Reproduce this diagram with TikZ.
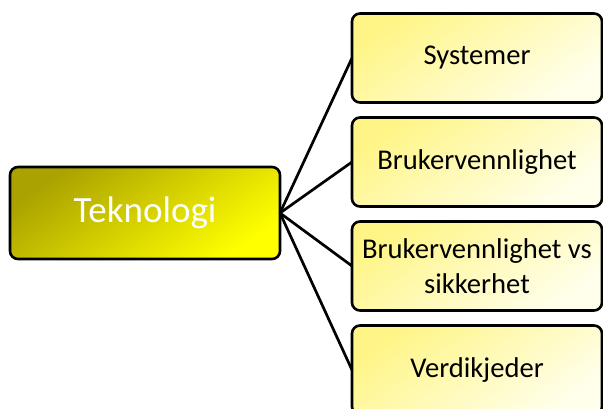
\documentclass[tikz,border=0pt]{standalone}
\usepackage{fontspec}
\setmainfont{Carlito}
\begin{document}
\begin{tikzpicture}[x=1pt,y=-1pt,
  every node/.style={inner sep=0pt, outer sep=0pt},
  rootbox/.style={draw=black, line width=2.6pt, rounded corners=8pt,
    anchor=north west, minimum width=270pt, minimum height=92pt,
    top color=rootdark, bottom color=rootbright, shading angle=35,
    text=white, font=\fontsize{37}{42}\selectfont},
  leafbox/.style={draw=black, line width=2.6pt, rounded corners=8pt,
    anchor=north west, minimum width=250pt, minimum height=89pt,
    top color=leafdark, bottom color=leafbright, shading angle=35,
    text=black, align=center, font=\fontsize{28.6}{35}\selectfont},
  link/.style={draw=black, line width=2.7pt}
]
\definecolor{rootdark}{RGB}{170,162,0}
\definecolor{rootbright}{RGB}{255,255,0}
\definecolor{leafdark}{RGB}{255,245,135}
\definecolor{leafbright}{RGB}{255,255,236}

\useasboundingbox (0,0) rectangle (603,409);
\clip (0,0) rectangle (603,409);
\fill[white] (0,0) rectangle (603,409);

% root topic and its four branches
\node[rootbox] (root) at (10,167) {Teknologi};
\node[leafbox] (s1) at (352,13.5) {Systemer};
\node[leafbox] (s2) at (352,117.5) {Brukervennlighet};
\node[leafbox] (s3) at (352,221.5) {Brukervennlighet vs\\sikkerhet};
\node[leafbox] (s4) at (352,325.5) {Verdikjeder};

% fan of connectors from the root's right side
\foreach \b in {s1,s2,s3,s4}
  \draw[link] (root.east) -- (\b.west);
\end{tikzpicture}
\end{document}
